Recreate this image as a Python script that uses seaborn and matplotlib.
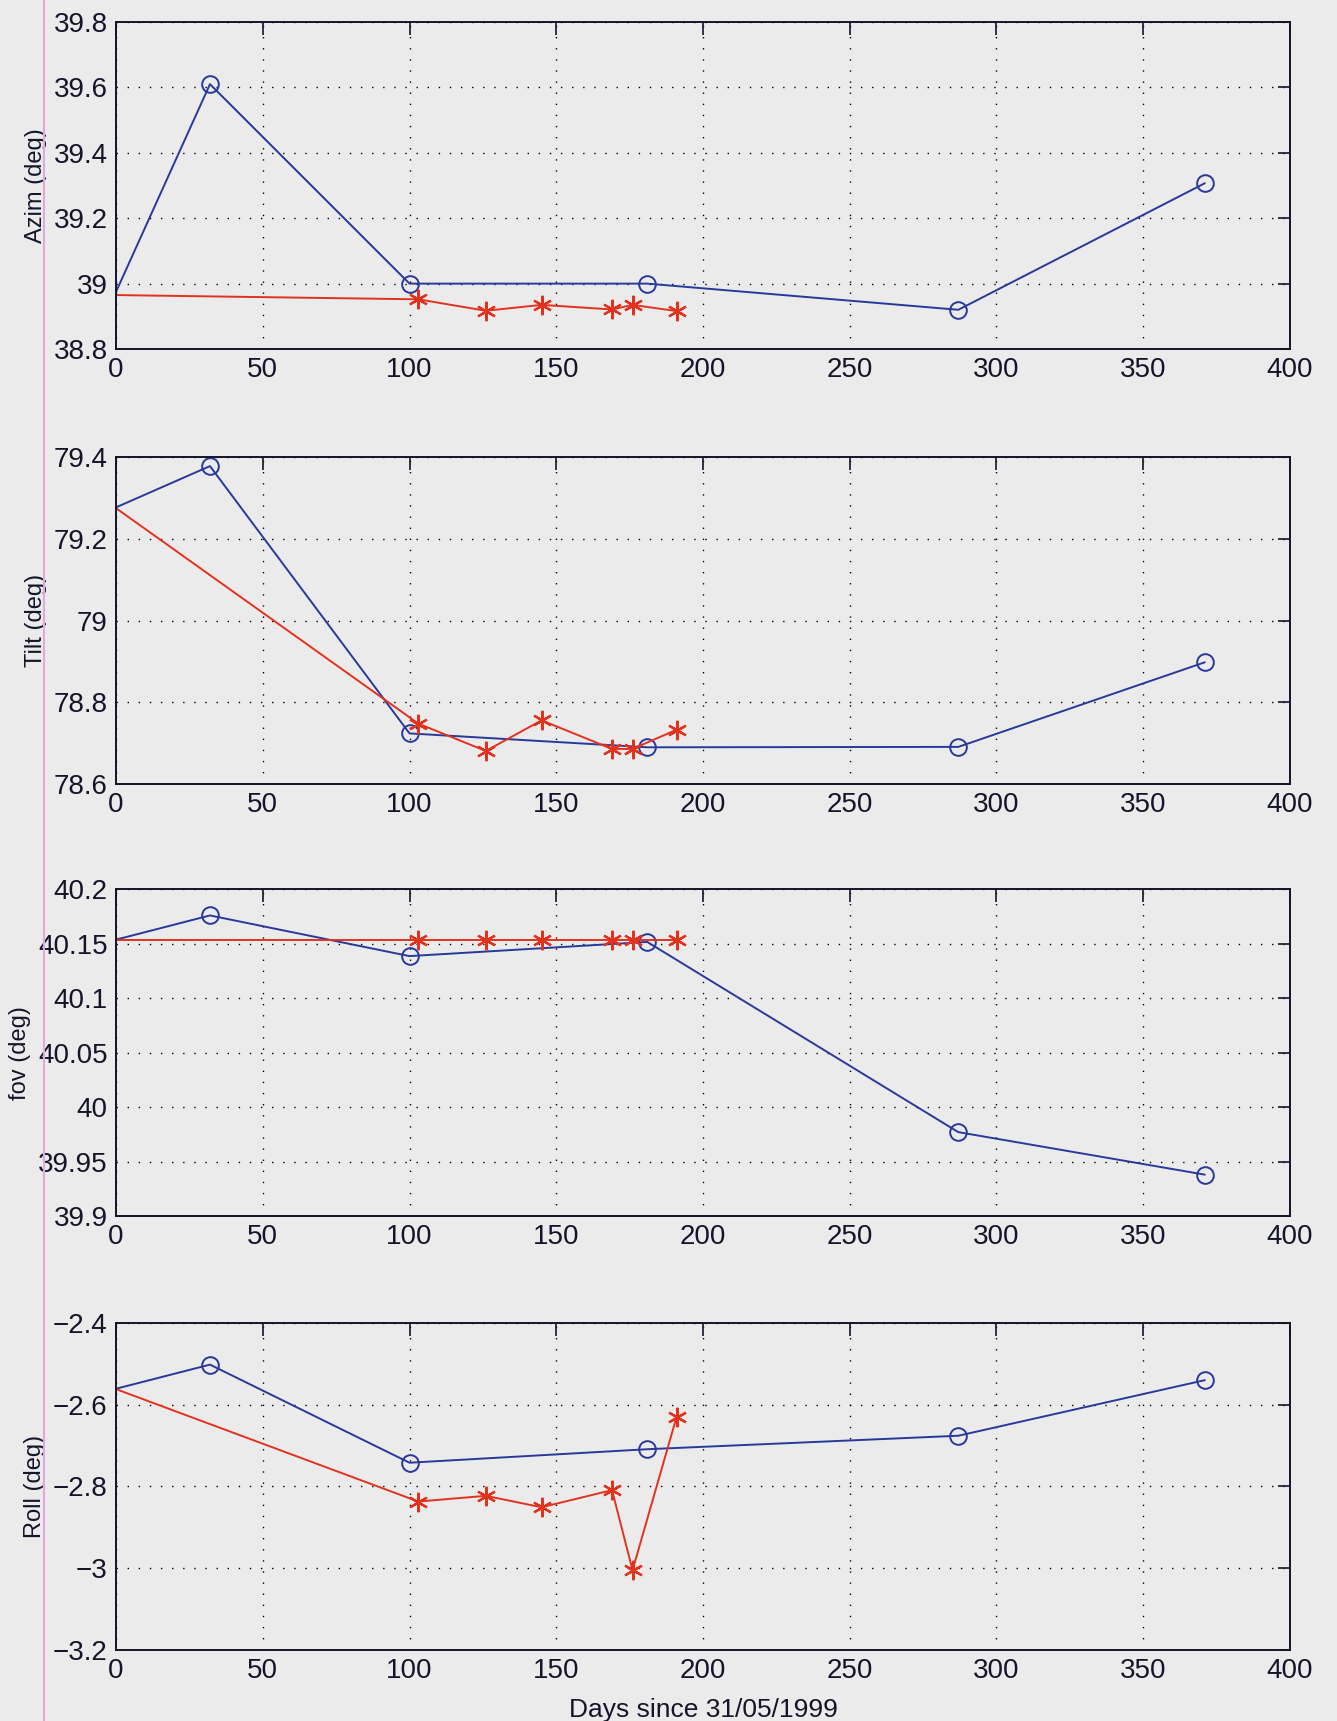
import matplotlib
matplotlib.use('Agg')
import matplotlib.pyplot as plt
import seaborn as sns
from matplotlib.lines import Line2D

# blue series (circles), day 0 has no marker
days_o = [0, 32, 100, 181, 287, 371]
azim_o = [38.975, 39.61, 39.0, 39.0, 38.92, 39.307]
tilt_o = [79.277, 79.378, 78.724, 78.690, 78.691, 78.898]
fov_o = [40.1536, 40.1758, 40.1385, 40.1515, 39.977, 39.938]
roll_o = [-2.561, -2.502, -2.742, -2.709, -2.676, -2.540]

# red series (asterisks)
days_s = [0, 103, 126, 145, 169, 176, 191]
azim_s = [38.965, 38.952, 38.917, 38.935, 38.921, 38.935, 38.916]
tilt_s = [79.275, 78.748, 78.681, 78.756, 78.686, 78.686, 78.733]
fov_s = [40.153, 40.153, 40.153, 40.153, 40.153, 40.153, 40.153]
roll_s = [-2.562, -2.837, -2.823, -2.851, -2.809, -3.005, -2.630]

ylabels = ['Azim (deg)', 'Tilt (deg)', 'fov (deg)', 'Roll (deg)']
yticks = [[38.8, 39.0, 39.2, 39.4, 39.6, 39.8],
          [78.6, 78.8, 79.0, 79.2, 79.4],
          [39.9, 39.95, 40.0, 40.05, 40.1, 40.15, 40.2],
          [-3.2, -3.0, -2.8, -2.6, -2.4]]
yticklabels = [['38.8', '39', '39.2', '39.4', '39.6', '39.8'],
               ['78.6', '78.8', '79', '79.2', '79.4'],
               ['39.9', '39.95', '40', '40.05', '40.1', '40.15', '40.2'],
               ['\u22123.2', '\u22123', '\u22122.8', '\u22122.6', '\u22122.4']]
xticks = [0, 50, 100, 150, 200, 250, 300, 350, 400]

series_o = [azim_o, tilt_o, fov_o, roll_o]
series_s = [azim_s, tilt_s, fov_s, roll_s]

BG = '#ebebeb'
BLUE = '#27399a'
RED = '#e2321e'
INK = '#15152a'

sns.set_style('white')
plt.rcParams['font.family'] = ['Liberation Sans', 'DejaVu Sans']

fig = plt.figure(figsize=(13.37, 17.21), dpi=100)
fig.patch.set_facecolor(BG)

# scan artefact: thin pink rule down the left margin
fig.add_artist(Line2D([0.033, 0.033], [0, 1], color='#dcaadf', lw=1.5))

bottoms = [0.7972, 0.5444, 0.2934, 0.0413]
for i in range(4):
    ax = fig.add_axes([0.0868, bottoms[i], 0.878, 0.190])
    ax.set_facecolor(BG)
    sns.lineplot(x=days_o, y=series_o[i], ax=ax, color=BLUE, lw=1.4,
                 marker='o', markersize=12, markevery=list(range(1, len(days_o))),
                 markerfacecolor='none', markeredgecolor=BLUE, markeredgewidth=1.4)
    sns.lineplot(x=days_s, y=series_s[i], ax=ax, color=RED, lw=1.4,
                 marker=(6, 2, 0), markersize=14, markevery=list(range(1, len(days_s))),
                 markeredgecolor=RED, markeredgewidth=1.6)
    ax.set_xlim(0, 400)
    ax.set_ylim(yticks[i][0], yticks[i][-1])
    ax.set_xticks(xticks)
    ax.set_xticklabels([str(t) for t in xticks])
    ax.set_yticks(yticks[i])
    ax.set_yticklabels(yticklabels[i])
    ax.set_axisbelow(True)
    ax.grid(True, linestyle=(0, (1, 7)), color='black', linewidth=1.0)
    ax.tick_params(direction='in', top=True, right=True, length=9, width=1.2,
                   labelsize=20, colors=INK, pad=6)
    for sp in ax.spines.values():
        sp.set_color(INK)
        sp.set_linewidth(1.4)
    ax.set_ylabel(ylabels[i], fontsize=17, color=INK, labelpad=5)
    if i == 3:
        ax.set_xlabel('Days since 31/05/1999', fontsize=19, color=INK, labelpad=10)
    else:
        ax.set_xlabel('')

fig.savefig('out.png', dpi=100, facecolor=BG)
